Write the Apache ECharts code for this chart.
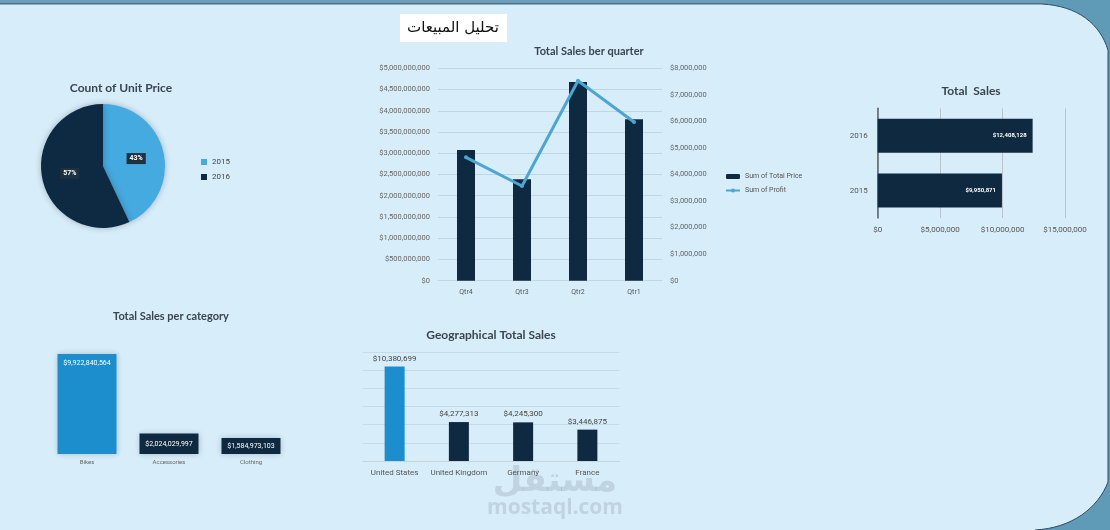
<!DOCTYPE html>
<html>
<head>
<meta charset="utf-8">
<script src="https://cdn.jsdelivr.net/npm/echarts@6/dist/echarts.min.js"></script>
<style>
  html, body { margin: 0; padding: 0; background: #5f9ab6; }
  #chart { width: 1110px; height: 530px; }
</style>
</head>
<body>
<div id="chart"></div>
<script>
// pie: count of unit price
const pieYears = ["2015", "2016"];
const pieCounts = [43, 57];

// combo: total sales per quarter
const quarters = ["Qtr4", "Qtr3", "Qtr2", "Qtr1"];
const quarterTotalPrice = [3077000000, 2387000000, 4677000000, 3800000000];
const quarterProfit = [4648000, 3567000, 7533000, 5977000];

// horizontal bars: total sales per year
const salesYears = ["2015", "2016"];
const salesByYear = [9950871, 12408128];

// category bars
const categories = ["Bikes", "Accessories", "Clothing"];
const categorySales = [9922840564, 2024029997, 1584973103];

// geography bars
const countries = ["United States", "United Kingdom", "Germany", "France"];
const countrySales = [10380699, 4277313, 4245300, 3446875];

const NAVY = "#0f2a40";
const BLUE = "#1c8dcd";
const money = (v) => "$" + Number(v).toLocaleString("en-US");
const axisFont = "Roboto";
const titleFont = "Lato";

// light background panel with curved right corners
echarts.graphic.registerShape("panel", echarts.graphic.extendShape({
  shape: {},
  buildPath: function (ctx) {
    ctx.moveTo(0, 4);
    ctx.lineTo(1042, 4);
    ctx.bezierCurveTo(1078, 6, 1100, 24, 1108, 50);
    ctx.lineTo(1108, 482);
    ctx.bezierCurveTo(1098, 508, 1072, 528, 1035, 530);
    ctx.lineTo(0, 530);
    ctx.closePath();
  }
}));
// dark outline only along the right edge and corners
echarts.graphic.registerShape("panelEdge", echarts.graphic.extendShape({
  shape: {},
  buildPath: function (ctx) {
    ctx.moveTo(1042, 4);
    ctx.bezierCurveTo(1078, 6, 1100, 24, 1108, 50);
    ctx.lineTo(1108, 482);
    ctx.bezierCurveTo(1098, 508, 1072, 528, 1035, 530);
  }
}));

const chart = echarts.init(document.getElementById("chart"), null, { renderer: "canvas" });

const titleText = (x, y, text, size) => ({
  type: "text",
  x: x,
  y: y,
  style: {
    text: text,
    font: "bold " + size + "px " + titleFont,
    fill: "#3a4551",
    textAlign: "center",
    textVerticalAlign: "middle"
  }
});

chart.setOption({
  animation: false,
  backgroundColor: "#5f9ab6",
  graphic: [
    { type: "panel", z: -20, shape: {}, style: { fill: "#d7edfa" } },
    { type: "panelEdge", z: -19, shape: {}, style: { fill: null, stroke: "#2f4d5e", lineWidth: 1 } },
    { type: "rect", z: -19, shape: { x: 0, y: 0, width: 1045, height: 3 }, style: { fill: "#6d9db8" } },
    { type: "rect", z: -19, shape: { x: 0, y: 3, width: 1042, height: 1.5 }, style: { fill: "#4a6f84" } },
    // arabic title box
    { type: "rect", shape: { x: 400, y: 14, width: 107, height: 28 }, style: { fill: "#ffffff" } },
    {
      type: "text", x: 453, y: 28,
      style: { text: "تحليل المبيعات", font: "15px 'DejaVu Sans'", fill: "#111", textAlign: "center", textVerticalAlign: "middle" }
    },
    titleText(121, 88, "Count of Unit Price", 12),
    titleText(589, 51, "Total Sales ber quarter", 11),
    titleText(971, 91, "Total  Sales", 12),
    titleText(171, 316, "Total Sales per category", 11),
    titleText(491, 335, "Geographical Total Sales", 12),
    // watermark
    {
      type: "text", x: 555, y: 482,
      style: { text: "مستقل", font: "bold 34px 'DejaVu Sans'", fill: "rgba(110,120,130,0.22)", textAlign: "center", textVerticalAlign: "middle" }
    },
    {
      type: "text", x: 555, y: 508,
      style: { text: "mostaql.com", font: "bold 21px 'Open Sans'", fill: "rgba(110,120,130,0.22)", textAlign: "center", textVerticalAlign: "middle" }
    }
  ],
  legend: [
    {
      data: pieYears,
      orient: "vertical",
      left: 196, top: 153,
      itemWidth: 6, itemHeight: 6, itemGap: 7,
      icon: "rect",
      textStyle: { fontSize: 8, color: "#444", fontFamily: axisFont }
    },
    {
      data: ["Sum of Total Price", "Sum of Profit"],
      orient: "vertical",
      left: 720, top: 168,
      itemWidth: 14, itemHeight: 5, itemGap: 7,
      textStyle: { fontSize: 7, color: "#555", fontFamily: axisFont }
    }
  ],
  grid: [
    { left: 438, top: 68.3, width: 224, height: 212.4 },
    { left: 877.7, top: 108.3, width: 187.3, height: 109.7 },
    { left: 46, top: 353.2, width: 246, height: 100.8 },
    { left: 362.5, top: 351.8, width: 257, height: 109.2 }
  ],
  xAxis: [
    {
      gridIndex: 0, type: "category", data: quarters,
      axisLine: { lineStyle: { color: "#c6d4de" } }, axisTick: { show: false },
      axisLabel: { fontSize: 7, color: "#555", fontFamily: axisFont, margin: 8 }
    },
    {
      gridIndex: 1, type: "value", min: 0, max: 15000000, interval: 5000000,
      axisLabel: { formatter: money, fontSize: 8, color: "#555", fontFamily: axisFont, margin: 8 },
      splitLine: { lineStyle: { color: "#b9c3cc" } }
    },
    {
      gridIndex: 2, type: "category", data: categories,
      axisLine: { show: false }, axisTick: { show: false },
      axisLabel: { fontSize: 6, color: "#666", fontFamily: axisFont, margin: 5, interval: 0 }
    },
    {
      gridIndex: 3, type: "category", data: countries,
      axisLine: { lineStyle: { color: "#c6d4de" } }, axisTick: { show: false },
      axisLabel: { fontSize: 8, color: "#555", fontFamily: axisFont, margin: 8, interval: 0 }
    }
  ],
  yAxis: [
    {
      gridIndex: 0, type: "value", min: 0, max: 5000000000, interval: 500000000,
      axisLabel: { formatter: money, fontSize: 7.5, color: "#666", fontFamily: axisFont, margin: 8 },
      splitLine: { lineStyle: { color: "rgba(160,180,195,0.4)" } }
    },
    {
      gridIndex: 0, type: "value", position: "right", min: 0, max: 8000000, interval: 1000000,
      axisLabel: { formatter: money, fontSize: 7.5, color: "#666", fontFamily: axisFont, margin: 8 },
      splitLine: { show: false }
    },
    {
      gridIndex: 1, type: "category", data: salesYears,
      axisLine: { show: true, lineStyle: { color: "#5a6068", width: 1.5 } }, axisTick: { show: false },
      axisLabel: { fontSize: 8, color: "#555", fontFamily: axisFont, margin: 10 }
    },
    {
      gridIndex: 2, type: "value", min: 0, max: 10000000000, show: false
    },
    {
      gridIndex: 3, type: "value", min: 0, max: 12000000, interval: 2000000,
      axisLabel: { show: false }, axisLine: { show: false }, axisTick: { show: false },
      splitLine: { lineStyle: { color: "rgba(160,180,195,0.3)" } }
    }
  ],
  series: [
    {
      type: "pie",
      center: [103, 166],
      radius: 62,
      startAngle: 90,
      clockwise: true,
      color: ["#44aae0", "#0d2a42"],
      itemStyle: { shadowBlur: 6, shadowColor: "rgba(0,0,0,0.25)" },
      label: {
        position: "inside",
        formatter: "{d}%",
        fontSize: 7, fontWeight: "bold", color: "#fff", fontFamily: axisFont,
        backgroundColor: "#1e3140", padding: [2, 3]
      },
      labelLine: { show: false },
      data: pieYears.map((y, i) => ({ name: y, value: pieCounts[i] }))
    },
    {
      name: "Sum of Total Price",
      type: "bar",
      xAxisIndex: 0, yAxisIndex: 0,
      barWidth: 18,
      itemStyle: { color: NAVY },
      data: quarterTotalPrice
    },
    {
      name: "Sum of Profit",
      type: "line",
      xAxisIndex: 0, yAxisIndex: 1,
      symbol: "circle", symbolSize: 4,
      lineStyle: { width: 3, color: "#4ba6d4" },
      itemStyle: { color: "#4ba6d4" },
      data: quarterProfit
    },
    {
      type: "bar",
      xAxisIndex: 1, yAxisIndex: 2,
      barWidth: 34,
      itemStyle: { color: NAVY },
      label: {
        show: true, position: "insideRight", formatter: (p) => money(p.value),
        fontSize: 6, fontWeight: "bold", color: "#fff", fontFamily: axisFont, distance: 6
      },
      data: salesByYear
    },
    {
      type: "bar",
      xAxisIndex: 2, yAxisIndex: 3,
      barWidth: 59,
      label: {
        show: true, formatter: (p) => money(p.value),
        fontSize: 7, color: "#fff", fontFamily: axisFont
      },
      data: categorySales.map((v, i) => ({
        value: v,
        itemStyle: { color: i === 0 ? BLUE : NAVY, shadowBlur: 6, shadowColor: "rgba(0,0,0,0.2)" },
        label: { position: i === 0 ? "insideTop" : "inside", distance: 6 }
      }))
    },
    {
      type: "bar",
      xAxisIndex: 3, yAxisIndex: 4,
      barWidth: 20,
      label: {
        show: true, position: "top", formatter: (p) => money(p.value),
        fontSize: 8, color: "#444", fontFamily: axisFont, distance: 4
      },
      data: countrySales.map((v, i) => ({ value: v, itemStyle: { color: i === 0 ? BLUE : NAVY } }))
    }
  ]
});
</script>
</body>
</html>
